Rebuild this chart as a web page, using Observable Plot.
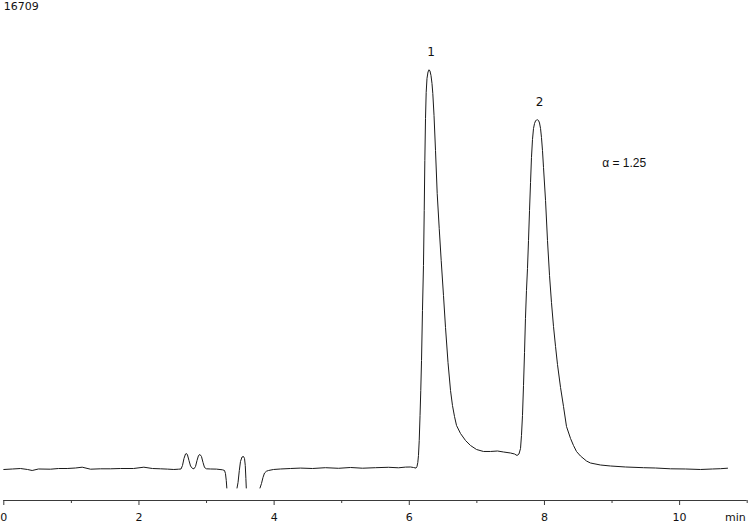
<!DOCTYPE html>
<html>
<head>
<meta charset="utf-8">
<script src="https://cdn.jsdelivr.net/npm/d3@7"></script>
<script src="https://cdn.jsdelivr.net/npm/@observablehq/plot@0.6"></script>
<style>
  html, body { margin: 0; padding: 0; background: #fff; }
  #chart { width: 750px; height: 522px; overflow: hidden; }
</style>
</head>
<body>
<div id="chart"></div>
<script>
// Retention time (min) of the chromatogram trace
const timeMin = [
  0.000, 0.129, 0.247, 0.351, 0.420, 0.513, 0.691, 0.809, 0.938, 1.061,
  1.160, 1.283, 1.431, 1.579, 1.727, 1.919, 2.072, 2.200, 2.319, 2.422,
  2.515, 2.585, 2.622, 2.644, 2.666, 2.689, 2.703, 2.718, 2.740, 2.763,
  2.792, 2.814, 2.837, 2.859, 2.881, 2.903, 2.925, 2.948, 2.970, 2.999,
  3.059, 3.147, 3.236, 3.266, 3.280, 3.292, 3.300, 3.380,
  3.451, 3.466, 3.485, 3.502, 3.525, 3.547, 3.562, 3.573, 3.582, 3.588, 3.690,
  3.791, 3.813, 3.835, 3.858, 3.887, 3.917, 3.991, 4.094, 4.242, 4.390,
  4.568, 4.760, 4.953, 5.130, 5.308, 5.500, 5.692, 5.840, 5.944, 6.018,
  6.062, 6.099, 6.114, 6.126, 6.136, 6.147, 6.159, 6.170, 6.181, 6.195,
  6.210, 6.221, 6.230, 6.240, 6.250, 6.262, 6.277, 6.292, 6.306, 6.321,
  6.336, 6.348, 6.366, 6.388, 6.413, 6.443, 6.472, 6.506, 6.536, 6.573,
  6.610, 6.639, 6.669, 6.699, 6.758, 6.832, 6.906, 6.995, 7.098, 7.202,
  7.305, 7.394, 7.498, 7.557, 7.594, 7.623, 7.646, 7.660, 7.675, 7.690,
  7.705, 7.719, 7.734, 7.749, 7.764, 7.779, 7.794, 7.808, 7.823, 7.838,
  7.853, 7.868, 7.882, 7.897, 7.912, 7.927, 7.942, 7.956, 7.971, 7.986,
  8.016, 8.045, 8.075, 8.104, 8.134, 8.164, 8.193, 8.238, 8.282, 8.326,
  8.386, 8.430, 8.474, 8.533, 8.622, 8.681, 8.829, 8.977, 9.199, 9.466,
  9.643, 9.865, 10.087, 10.309, 10.487, 10.605, 10.709
];

// Detector signal (counts); null = trace off scale (not drawn)
const signal = [
  1036, 1053, 1069, 1036, 1003, 1053, 1046, 1069, 1069, 1086,
  1113, 1046, 1059, 1059, 1069, 1069, 1113, 1069, 1059, 1049,
  1036, 1046, 1053, 1170, 1404, 1554, 1571, 1521, 1337, 1153,
  1069, 1059, 1136, 1337, 1504, 1537, 1470, 1270, 1103, 1059,
  1053, 1049, 1026, 1003, 902, 668, 418, null,
  418, 602, 1003, 1303, 1454, 1470, 1404, 1170, 735, 418, null,
  418, 568, 769, 919, 979, 1003, 1036, 1053, 1069, 1083,
  1069, 1096, 1076, 1103, 1079, 1096, 1110, 1093, 1116, 1120,
  1103, 1083, 1136, 1270, 1504, 2005, 2841, 3676, 4679, 6350,
  7854, 9692, 11363, 12766, 13635, 14103, 14320, 14394, 14354, 14204,
  13936, 13602, 12867, 11697, 10260, 9090, 8021, 6851, 5782, 4612,
  3676, 3175, 2807, 2507, 2239, 2005, 1838, 1704, 1638, 1638,
  1654, 1621, 1587, 1554, 1504, 1554, 1738, 2172, 2841, 3843,
  4946, 6082, 7018, 7753, 8689, 9692, 10628, 11463, 12065, 12432,
  12599, 12683, 12717, 12723, 12700, 12616, 12432, 12131, 11697, 11129,
  10026, 8689, 7520, 6617, 5815, 5147, 4545, 3776, 3141, 2473,
  2072, 1838, 1638, 1487, 1320, 1253, 1186, 1153, 1120, 1096,
  1086, 1059, 1053, 1036, 1053, 1063, 1079
];

// Peak annotations
const peakNames = ["1", "2"];
const peakTimes = [6.292, 7.897];
const peakHeights = [14394, 12723];

// Axis ticks and labels
const majorTicks = [0, 2, 4, 6, 8, 10];
const minorTicks = [1, 3, 5, 7, 9, 11];
const timeUnit = "min";
const fullScaleLabel = "16709";
const yFullScale = 16709;
const xMax = 11;
const selectivityLabel = "α = 1.25";

const trace = timeMin.map((t, i) => ({t, v: signal[i]}));
const peaks = peakNames.map((name, i) => ({name, t: peakTimes[i], v: peakHeights[i]}));

const ink = "#1a1a1a";
const axisInk = "#3a3a3a";

const chart = Plot.plot({
  width: 750,
  height: 522,
  marginTop: 0,
  marginBottom: 22,
  marginLeft: 3.3,
  marginRight: 3.3,
  x: {domain: [0, xMax], axis: null, label: null},
  y: {domain: [0, yFullScale], axis: null, label: null},
  style: {fontFamily: "'DejaVu Sans', sans-serif", fontSize: "11px", background: "#fff", color: axisInk, overflow: "hidden"},
  marks: [
    Plot.ruleY([0], {stroke: axisInk, strokeWidth: 1}),
    Plot.axisX({ticks: majorTicks, tickSize: 5, tickPadding: 8, tickFormat: d => String(d), label: null, stroke: axisInk, fill: "#111", fontSize: 11}),
    Plot.axisX({ticks: minorTicks, tickSize: 3, tickFormat: () => "", label: null, stroke: axisInk}),
    Plot.text([timeUnit], {x: () => xMax, frameAnchor: "bottom", textAnchor: "end", lineAnchor: "top", dx: -1.5, dy: 13, fill: "#111", fontSize: 11}),
    Plot.line(trace, {x: "t", y: "v", stroke: ink, strokeWidth: 1, curve: "linear"}),
    Plot.text(peaks, {x: "t", y: "v", text: "name", dx: 2, dy: -18, fill: "#111", fontSize: 12}),
    Plot.text([selectivityLabel], {x: () => 8.855, y: () => 11263, textAnchor: "start", fill: "#111", fontSize: 12, fontFamily: "'Liberation Sans', Arial, sans-serif"}),
    Plot.text([fullScaleLabel], {frameAnchor: "top-left", textAnchor: "start", lineAnchor: "top", dx: 0, dy: 2, fill: "#111", fontSize: 11})
  ]
});

document.getElementById("chart").appendChild(chart);
</script>
</body>
</html>
